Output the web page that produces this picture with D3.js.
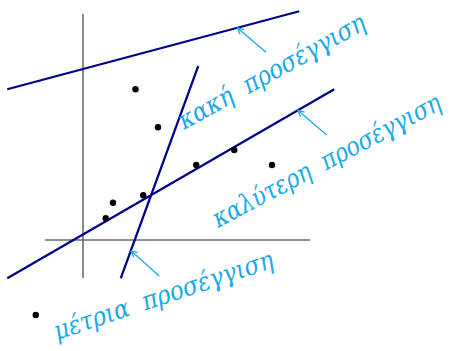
<!DOCTYPE html>
<html>
<head>
<meta charset="utf-8">
<script src="https://cdn.jsdelivr.net/npm/d3@7"></script>
<style>
html,body{margin:0;padding:0;background:#fff;}
svg{display:block;}
</style>
</head>
<body>
<svg id="chart" width="461" height="351"></svg>
<script>
// Data (in chart units)
const pointsX = [2.1, 3.0, 4.53, 6.05, 7.56, 2.41, 1.2, 0.91, -1.89];
const pointsY = [6.03, 4.51, 3.0, 3.6, 3.0, 1.79, 1.49, 0.87, -3.0];

const lineNames = ["κακή", "μέτρια", "καλύτερη"];
const lineX1 = [-3.03, 1.51, -3.03];
const lineY1 = [6.03, -1.53, -1.53];
const lineX2 = [8.65, 4.61, 10.05];
const lineY2 = [9.15, 6.96, 6.03];

const labelTexts = ["κακή\u00a0\u00a0προσέγγιση", "καλύτερη\u00a0\u00a0προσέγγιση", "μέτρια\u00a0\u00a0προσέγγιση"];
const labelX = [4.04, 5.4, -1.04];
const labelY = [4.4, 0.48, -4.0];
const labelAngle = [-29, -28, -18.5];
const labelLen = [210, 255, 230];

const arrowFromX = [7.32, 9.75, 3.05];
const arrowFromY = [7.51, 4.2, -1.44];
const arrowToX = [6.17, 8.59, 1.92];
const arrowToY = [8.49, 5.19, -0.43];

const xAxisRange = [-1.52, 9.08];
const yAxisRange = [-1.52, 9.04];

const svg = d3.select("#chart");
const x = d3.scaleLinear().domain([0, 10]).range([83, 333]);
const y = d3.scaleLinear().domain([0, 10]).range([240, -10]);

const navy = "#00008b";
const cyan = "#1aa9e8";

// axes
svg.append("line")
  .attr("x1", x(xAxisRange[0])).attr("x2", x(xAxisRange[1]))
  .attr("y1", y(0)).attr("y2", y(0))
  .attr("stroke", "#6b6b6b").attr("stroke-width", 1.6);
svg.append("line")
  .attr("x1", x(0)).attr("x2", x(0))
  .attr("y1", y(yAxisRange[0])).attr("y2", y(yAxisRange[1]))
  .attr("stroke", "#6b6b6b").attr("stroke-width", 1.6);

// fitted lines
svg.selectAll("line.fit").data(lineNames).enter().append("line")
  .attr("class", "fit")
  .attr("x1", (d, i) => x(lineX1[i])).attr("y1", (d, i) => y(lineY1[i]))
  .attr("x2", (d, i) => x(lineX2[i])).attr("y2", (d, i) => y(lineY2[i]))
  .attr("stroke", navy).attr("stroke-width", 2.2);

// points
svg.selectAll("circle.pt").data(pointsX).enter().append("circle")
  .attr("class", "pt")
  .attr("cx", (d) => x(d)).attr("cy", (d, i) => y(pointsY[i]))
  .attr("r", 3.2).attr("fill", "#000");

// arrows
const arr = svg.append("g").attr("stroke", cyan).attr("stroke-width", 1.3).attr("fill", "none");
arrowFromX.forEach((fx, i) => {
  const x1 = x(fx), y1 = y(arrowFromY[i]), x2 = x(arrowToX[i]), y2 = y(arrowToY[i]);
  arr.append("line").attr("x1", x1).attr("y1", y1).attr("x2", x2).attr("y2", y2);
  const ang = Math.atan2(y1 - y2, x1 - x2);
  const L = 7, spread = 0.45;
  [ang + spread, ang - spread].forEach(a => {
    arr.append("line").attr("x1", x2).attr("y1", y2)
      .attr("x2", x2 + L * Math.cos(a)).attr("y2", y2 + L * Math.sin(a));
  });
});

// labels (scaled horizontally to the measured length)
svg.selectAll("text.lbl").data(labelTexts).enter().append("text")
  .attr("class", "lbl")
  .attr("font-family", "'DejaVu Serif', serif")
  .attr("font-style", "italic")
  .attr("font-size", 26)
  .attr("fill", cyan)
  .text(d => d)
  .each(function(d, i) {
    const natural = this.getComputedTextLength();
    const sx = labelLen[i] / natural;
    d3.select(this).attr("transform",
      `translate(${x(labelX[i])},${y(labelY[i])}) rotate(${labelAngle[i]}) scale(${sx},1)`);
  });
</script>
</body>
</html>
